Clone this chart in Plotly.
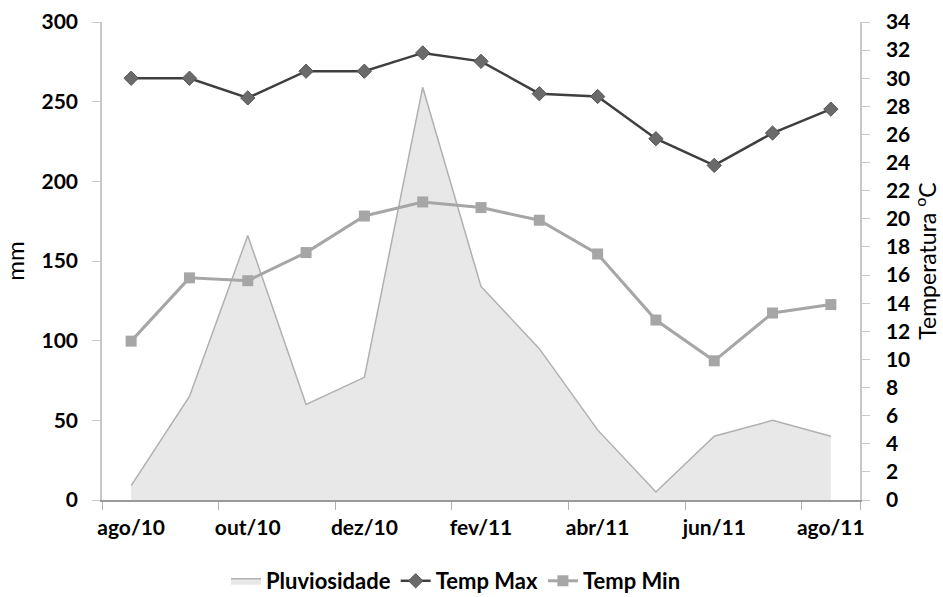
import plotly.graph_objects as go

# Monthly series, Aug 2010 - Aug 2011
months = ["ago/10", "set/10", "out/10", "nov/10", "dez/10", "jan/11", "fev/11",
          "mar/11", "abr/11", "mai/11", "jun/11", "jul/11", "ago/11"]
rain_mm = [9, 65, 166, 60, 77, 259, 134, 95, 44, 5, 40, 50, 40]
temp_max = [30.0, 30.0, 28.6, 30.5, 30.5, 31.8, 31.2, 28.9, 28.7, 25.7, 23.8, 26.1, 27.8]
temp_min = [11.3, 15.8, 15.6, 17.6, 20.2, 21.2, 20.8, 19.9, 17.5, 12.8, 9.9, 13.3, 13.9]
month_ticks = months[::2]

FONT = "Lato"
tick_font = dict(family=FONT, size=21, color="#000000", weight=700)

fig = go.Figure()

fig.add_trace(go.Scatter(
    x=months, y=rain_mm, name="Pluviosidade", mode="lines",
    fill="tozeroy", fillcolor="#e8e8e8",
    line=dict(color="#b0b0b0", width=1.5),
    yaxis="y",
))
fig.add_trace(go.Scatter(
    x=months, y=temp_max, name="Temp Max", mode="lines+markers",
    line=dict(color="#3f3f3f", width=2.5),
    marker=dict(symbol="diamond", size=11, color="#6a6a6a",
                line=dict(color="#555555", width=1)),
    yaxis="y2",
))
fig.add_trace(go.Scatter(
    x=months, y=temp_min, name="Temp Min", mode="lines+markers",
    line=dict(color="#a6a6a6", width=3),
    marker=dict(symbol="square", size=11, color="#a6a6a6"),
    yaxis="y2",
))

fig.update_layout(
    width=943, height=597,
    margin=dict(l=102, r=83, t=22, b=97, autoexpand=False),
    paper_bgcolor="white", plot_bgcolor="white",
    font=dict(family=FONT, color="#000000"),
    showlegend=True,
    legend=dict(orientation="h", x=0.467, xanchor="center",
                yref="container", y=0.062, yanchor="top",
                font=dict(family=FONT, size=22, color="#000000", weight=700),
                itemwidth=30, tracegroupgap=0, bgcolor="rgba(0,0,0,0)"),
    xaxis=dict(
        type="category", categoryorder="array", categoryarray=months,
        range=[-0.5, 12.5], automargin=False,
        tickmode="array", tickvals=month_ticks, ticktext=month_ticks, tickangle=0,
        tickson="boundaries", ticks="outside", ticklen=8, tickcolor="#b0b0b0",
        ticklabelstandoff=8,
        showline=True, linecolor="#999999", linewidth=1.5,
        showgrid=False, zeroline=False, tickfont=tick_font,
    ),
    yaxis=dict(
        range=[0, 300], dtick=50, tick0=0, automargin=False,
        ticks="outside", ticklen=8, tickcolor="#c8c8c8", ticklabelstandoff=10,
        showline=True, linecolor="#c8c8c8", linewidth=1.5,
        showgrid=False, zeroline=False, tickfont=tick_font,
        title=dict(text="mm", font=dict(family=FONT, size=24, color="#000000"), standoff=14),
    ),
    yaxis2=dict(
        overlaying="y", side="right", range=[0, 34], dtick=2, tick0=0, automargin=False,
        ticks="outside", ticklen=8, tickcolor="#c8c8c8", ticklabelstandoff=12,
        showline=True, linecolor="#c8c8c8", linewidth=1.5,
        showgrid=False, zeroline=False, tickfont=tick_font,
        title=dict(text="Temperatura <sup>o</sup>C",
                   font=dict(family=FONT, size=23, color="#000000"), standoff=10),
    ),
)

fig.write_html("out.html")
